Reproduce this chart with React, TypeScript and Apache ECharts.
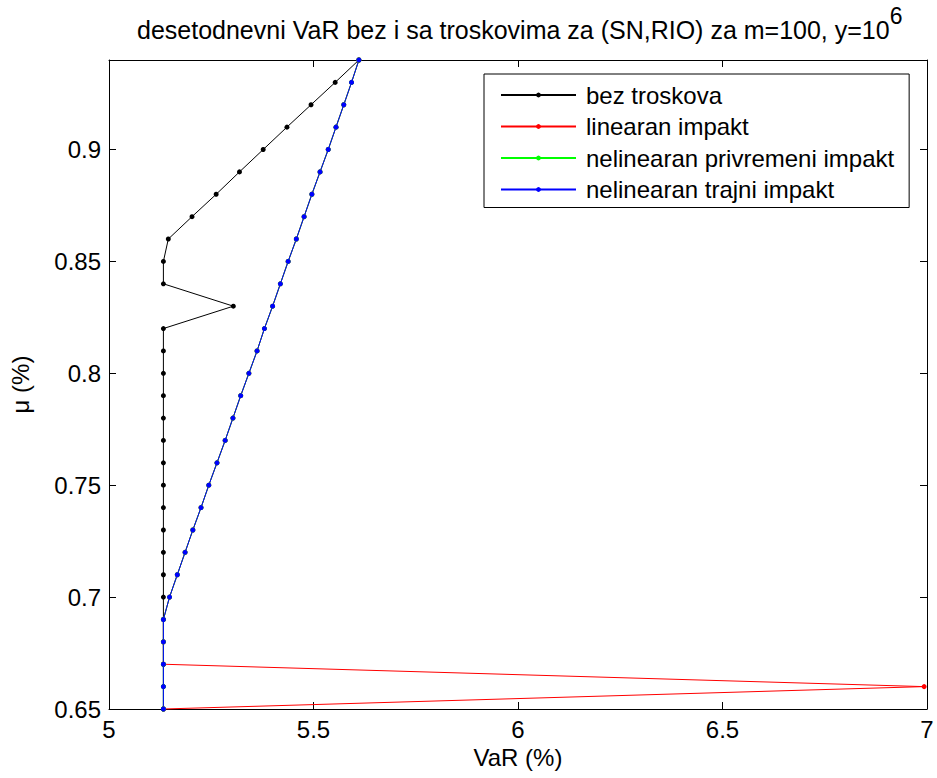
import React, { useEffect, useRef } from 'react';
import * as echarts from 'echarts';

// μ (%) values (y)
const mu = [
  0.65, 0.66, 0.67, 0.68, 0.69, 0.7, 0.71, 0.72, 0.73, 0.74,
  0.75, 0.76, 0.77, 0.78, 0.79, 0.8, 0.81, 0.82, 0.83, 0.84,
  0.85, 0.86, 0.87, 0.88, 0.89, 0.9, 0.91, 0.92, 0.93, 0.94,
];

// VaR (%) values (x) for each series
const varBezTroskova = [
  5.133, 5.133, 5.133, 5.133, 5.133, 5.133, 5.133, 5.133, 5.133, 5.133,
  5.133, 5.133, 5.133, 5.133, 5.133, 5.133, 5.133, 5.133, 5.304, 5.133,
  5.133, 5.145, 5.203, 5.262, 5.319, 5.377, 5.435, 5.494, 5.553, 5.611,
];
const varLinearan = [
  5.133, 6.993, 5.133, 5.133, 5.133, 5.148, 5.167, 5.186, 5.205, 5.225,
  5.244, 5.264, 5.284, 5.303, 5.322, 5.342, 5.362, 5.38, 5.4, 5.419,
  5.438, 5.458, 5.477, 5.496, 5.516, 5.536, 5.555, 5.574, 5.593, 5.611,
];
const varPrivremeni = [
  5.133, 5.133, 5.133, 5.133, 5.133, 5.148, 5.167, 5.186, 5.205, 5.225,
  5.244, 5.264, 5.284, 5.303, 5.322, 5.342, 5.362, 5.38, 5.4, 5.419,
  5.438, 5.458, 5.477, 5.496, 5.516, 5.536, 5.555, 5.574, 5.593, 5.611,
];
const varTrajni = [
  5.133, 5.133, 5.133, 5.133, 5.133, 5.148, 5.167, 5.186, 5.205, 5.225,
  5.244, 5.264, 5.284, 5.303, 5.322, 5.342, 5.362, 5.38, 5.4, 5.419,
  5.438, 5.458, 5.477, 5.496, 5.516, 5.536, 5.555, 5.574, 5.593, 5.611,
];

const seriesNames = [
  'bez troskova',
  'linearan impakt',
  'nelinearan privremeni impakt',
  'nelinearan trajni impakt',
];
const seriesValues = [varBezTroskova, varLinearan, varPrivremeni, varTrajni];
const seriesColors = ['#000000', '#ff0000', '#00ff00', '#0000ff'];

const xTicks = [5, 5.5, 6, 6.5, 7];
const yTicks = [0.65, 0.7, 0.75, 0.8, 0.85, 0.9];

const FONT = '"Liberation Sans", Arial, Helvetica, sans-serif';

const tickFormatter = (ticks: number[]) => (v: number) => {
  const t = ticks.find((k) => Math.abs(k - v) < 1e-9);
  return t === undefined ? '' : String(t);
};

export default function App() {
  const ref = useRef<HTMLDivElement>(null);

  useEffect(() => {
    if (!ref.current) return;
    const chart = echarts.init(ref.current, null, { renderer: 'svg' });
    const axisLineStyle = { color: '#000', width: 1 };
    const labelStyle = { fontFamily: FONT, fontSize: 24, color: '#000', fontWeight: 'normal' };

    const option: any = {
      animation: false,
      backgroundColor: '#ffffff',
      title: {
        text: '{a|desetodnevni VaR bez i sa troskovima za (SN,RIO) za m=100, y=10}{s|6}',
        left: 137,
        top: 4,
        padding: 0,
        textStyle: {
          fontWeight: 'normal',
          rich: {
            a: { fontFamily: FONT, fontSize: 25, color: '#000', fontWeight: 'normal' },
            s: {
              fontFamily: FONT,
              fontSize: 23,
              color: '#000',
              fontWeight: 'normal',
              padding: [0, 0, 28, 0],
            },
          },
        },
      },
      legend: {
        orient: 'vertical',
        left: 484,
        top: 74,
        padding: [9, 15, 6, 16],
        backgroundColor: '#ffffff',
        borderColor: '#000',
        borderWidth: 1,
        borderRadius: 0,
        itemWidth: 75,
        itemHeight: 6,
        itemGap: 7.5,
        textStyle: { ...labelStyle, lineHeight: 24, padding: [0, 0, 0, 5] },
        data: seriesNames,
      },
      grid: { left: 107, right: 10, top: 60, bottom: 69, containLabel: false },
      xAxis: [
        {
          type: 'value',
          min: 5,
          max: 7,
          interval: 0.5,
          position: 'bottom',
          axisLine: { show: true, onZero: false, lineStyle: axisLineStyle },
          axisTick: { show: true, inside: true, length: 7, lineStyle: axisLineStyle },
          axisLabel: { ...labelStyle, margin: 8, formatter: tickFormatter(xTicks) },
          splitLine: { show: false },
          name: 'VaR (%)',
          nameLocation: 'middle',
          nameGap: 36,
          nameTextStyle: labelStyle,
        },
        {
          type: 'value',
          min: 5,
          max: 7,
          interval: 0.5,
          position: 'top',
          axisLine: { show: true, onZero: false, lineStyle: axisLineStyle },
          axisTick: { show: true, inside: true, length: 7, lineStyle: axisLineStyle },
          axisLabel: { show: false },
          splitLine: { show: false },
        },
      ],
      yAxis: [
        {
          type: 'value',
          min: 0.65,
          max: 0.94,
          interval: 0.05,
          position: 'left',
          axisLine: { show: true, onZero: false, lineStyle: axisLineStyle },
          axisTick: { show: true, inside: true, length: 7, lineStyle: axisLineStyle },
          axisLabel: { ...labelStyle, margin: 8, formatter: tickFormatter(yTicks) },
          splitLine: { show: false },
          name: 'μ (%)',
          nameLocation: 'middle',
          nameGap: 77,
          nameTextStyle: labelStyle,
        },
        {
          type: 'value',
          min: 0.65,
          max: 0.94,
          interval: 0.05,
          position: 'right',
          axisLine: { show: true, onZero: false, lineStyle: axisLineStyle },
          axisTick: { show: true, inside: true, length: 7, lineStyle: axisLineStyle },
          axisLabel: { show: false },
          splitLine: { show: false },
        },
      ],
      series: seriesNames.map((name, i) => ({
        type: 'line',
        name,
        xAxisIndex: 0,
        yAxisIndex: 0,
        data: mu.map((m, j) => [seriesValues[i][j], m]),
        symbol: 'circle',
        symbolSize: 5,
        showSymbol: true,
        clip: false,
        lineStyle: { width: 1, color: seriesColors[i] },
        itemStyle: { color: seriesColors[i] },
      })),
    };

    chart.setOption(option);
    return () => chart.dispose();
  }, []);

  return (
    <div
      ref={ref}
      style={{ position: 'fixed', left: 0, top: 0, width: 937, height: 778, background: '#fff' }}
    />
  );
}
